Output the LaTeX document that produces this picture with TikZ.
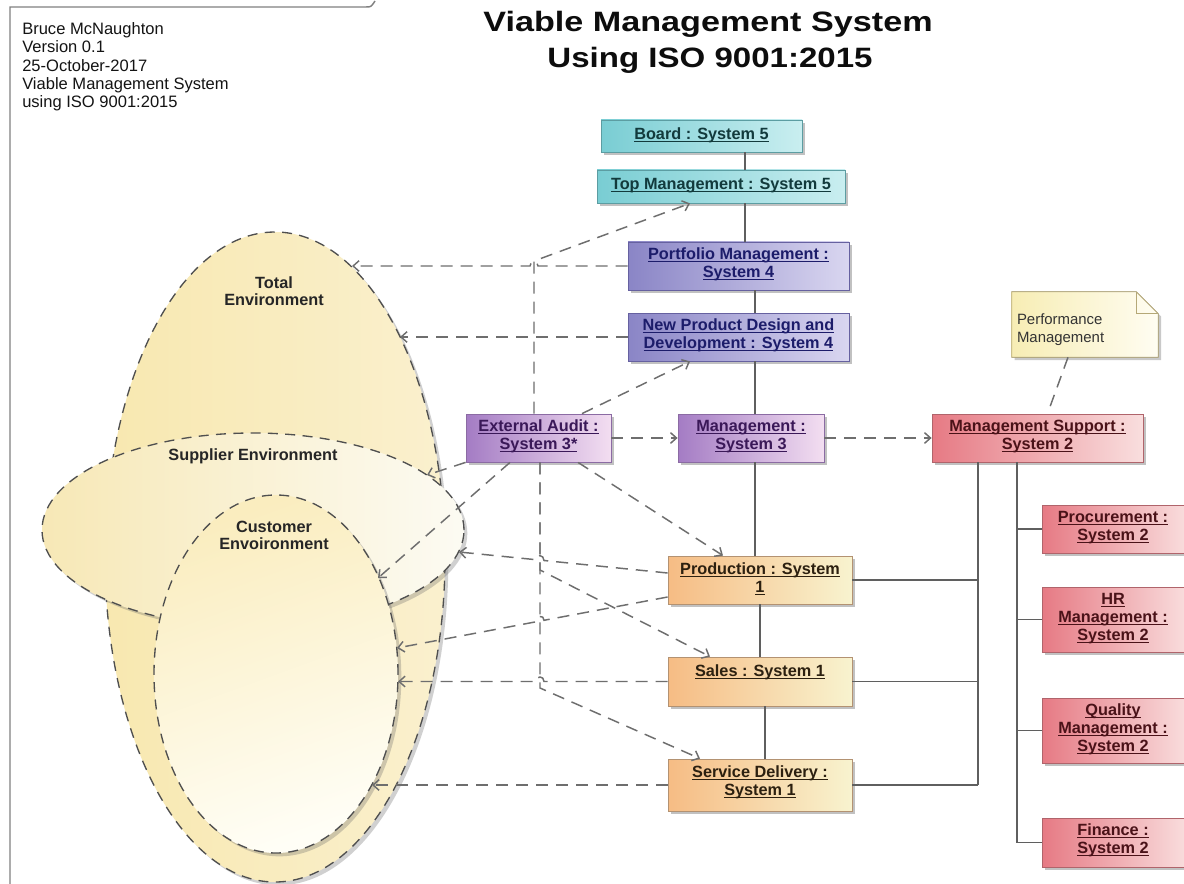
\documentclass[tikz,border=0pt]{standalone}
\usepackage{fontspec}
\setmainfont{Liberation Sans}
\usetikzlibrary{arrows.meta,shapes.geometric,shadows,calc}
\definecolor{c5l}{HTML}{79CDD3}\definecolor{c5r}{HTML}{C9EEF0}\definecolor{c5d}{HTML}{5C9DA2}\definecolor{c5t}{HTML}{123A3C}
\definecolor{c4l}{HTML}{8A85C6}\definecolor{c4r}{HTML}{D9D6F0}\definecolor{c4d}{HTML}{6661A0}\definecolor{c4t}{HTML}{1C1C6A}
\definecolor{c3l}{HTML}{A47CC4}\definecolor{c3r}{HTML}{F3DEF1}\definecolor{c3d}{HTML}{8B6BA3}\definecolor{c3t}{HTML}{3A1858}
\definecolor{c2l}{HTML}{E67A84}\definecolor{c2r}{HTML}{F9DEDE}\definecolor{c2d}{HTML}{B0646B}\definecolor{c2t}{HTML}{4A1218}
\definecolor{c1l}{HTML}{F6BC84}\definecolor{c1r}{HTML}{F8F3CF}\definecolor{c1d}{HTML}{B39272}\definecolor{c1t}{HTML}{2C2010}
\definecolor{ntl}{HTML}{F7EDB4}\definecolor{ntr}{HTML}{FFFDF2}\definecolor{ntd}{HTML}{B5A877}
\definecolor{envd}{HTML}{4F4F4F}\definecolor{cdl}{HTML}{6E6E6E}\definecolor{csl}{HTML}{5F5F5F}
\definecolor{totl}{HTML}{F8E8B0}\definecolor{totr}{HTML}{FAF0CE}
\definecolor{supl}{HTML}{F7E8B6}\definecolor{supr}{HTML}{FCFBF3}
\definecolor{cust}{HTML}{FAEDBF}\definecolor{cusb}{HTML}{FFFEF6}
\newcommand\ulb[1]{\underline{\smash{#1}\vphantom{A}}}
\begin{document}
\begin{tikzpicture}[x=0.75pt,y=-0.75pt,
  sz/.style 2 args={minimum width=#1*0.75pt,minimum height=#2*0.75pt},
  bx/.style={rectangle,inner sep=0pt,line width=0.6pt,drop shadow={shadow xshift=2.2pt,shadow yshift=-2.2pt,opacity=0.4,fill=black!60}},
  b5/.style={bx,left color=c5l,right color=c5r,draw=c5d},
  b4/.style={bx,left color=c4l,right color=c4r,draw=c4d},
  b3/.style={bx,left color=c3l,right color=c3r,draw=c3d},
  b2/.style={bx,left color=c2l,right color=c2r,draw=c2d},
  b1/.style={bx,left color=c1l,right color=c1r,draw=c1d},
  bt/.style={anchor=north,inner sep=0pt,align=center,font=\bfseries\fontsize{12.2}{13.6}\selectfont},
  t5/.style={bt,text=c5t},t4/.style={bt,text=c4t},t3/.style={bt,text=c3t},
  t2/.style={bt,text=c2t},t1/.style={bt,text=c1t},
  env/.style={ellipse,inner sep=0pt,draw=envd,line width=1pt,dash pattern=on 7.5pt off 5.5pt,
    drop shadow={shadow xshift=2.5pt,shadow yshift=-2.5pt,opacity=0.3,fill=black!60}},
  elab/.style={align=center,inner sep=0pt,font=\bfseries\fontsize{12.2}{12.6}\selectfont,text=black!85},
  dl/.style={draw=cdl,line width=1.1pt,dash pattern=on 9pt off 6pt},
  ar/.style={-{Straight Barb[length=4.5pt,width=8pt]}},
  sl/.style={draw=csl,line width=1.1pt},
  hd/.style={inner sep=0pt,anchor=base west,font=\fontsize{12.4}{14}\selectfont,text=black!92},
  ttl/.style={inner sep=0pt,anchor=base,font=\bfseries\fontsize{21}{24}\selectfont,text=black!95},
]
\useasboundingbox (0,0) rectangle (1184,884);
\fill[white] (0,0) rectangle (1184,884);

% frame
\draw[draw=black!50,line width=1.1pt] (10,884) -- (10,7) -- (366,7) .. controls (371,7) .. (375,1);

% header
\node[hd] (h1) at (22,35) {Bruce McNaughton};
\node[hd] (h2) at (22,53) {Version 0.1};
\node[hd] (h3) at (22,72) {25-October-2017};
\node[hd] (h4) at (22,90) {Viable Management System};
\node[hd] (h5) at (22,108) {using ISO 9001:2015};

% title
\node[ttl] (ti1) at (708,32) {\scalebox{1.22}[1]{Viable Management System}};
\node[ttl] (ti2) at (710,68) {\scalebox{1.18}[1]{Using ISO 9001:2015}};

% environments
\node[env,sz={340}{650},left color=totl,right color=totr] (tot) at (275,557) {};
\node[env,sz={422}{194},left color=supl,right color=supr] (sup) at (253,530) {};
\node[env,sz={244}{358},shading=axis,top color=cust,bottom color=cusb,shading angle=20] (cus) at (276,674) {};
\node[elab] (totL) at (274,291) {Total\\Environment};
\node[elab] (supL) at (253,456) {Supplier Environment};
\node[elab] (cusL) at (274,535) {Customer\\Envoironment};

% boxes
\node[b5,sz={201}{32}] (board) at (701.5,136) {};
\node[b5,sz={248}{33}] (tm) at (721,186.5) {};
\node[b4,sz={221}{48}] (pm) at (738.5,266) {};
\node[b4,sz={221}{48}] (npd) at (738.5,337) {};
\node[b3,sz={145}{48}] (ea) at (538.5,438) {};
\node[b3,sz={146}{48}] (mg) at (751,438) {};
\node[b2,sz={211}{48}] (ms) at (1037.5,438) {};
\node[b2,sz={146}{48}] (proc) at (1115,529) {};
\node[b2,sz={146}{65}] (hr) at (1115,619.5) {};
\node[b2,sz={146}{65}] (ql) at (1115,730.5) {};
\node[b2,sz={146}{49}] (fin) at (1115,842.5) {};
\node[b1,sz={184}{48}] (prod) at (760,580) {};
\node[b1,sz={184}{49}] (sales) at (760,681.5) {};
\node[b1,sz={184}{52}] (serv) at (760,785) {};

% note
\node[inner sep=0pt,sz={146}{65}] (note) at (1085,324.5) {};
\filldraw[left color=ntl,right color=ntr,draw=ntd,line width=0.6pt,
  drop shadow={shadow xshift=2.2pt,shadow yshift=-2.2pt,opacity=0.35,fill=black!60}]
  (note.north west) -- ($(note.north east)+(-22,0)$) -- ($(note.north east)+(0,22)$) -- (note.south east) -- (note.south west) -- cycle;
\draw[draw=ntd,line width=0.6pt] ($(note.north east)+(-22,0)$) -- ($(note.north east)+(-22,22)$) -- ($(note.north east)+(0,22)$);
\node[anchor=north west,inner sep=0pt,align=left,font=\fontsize{11.2}{13.6}\selectfont,text=black!80] (noteT) at ($(note.north west)+(5,22)$) {Performance\\Management};

% box texts
\node[t5] (boardT) at ($(board.north)+(0,8)$) {\ulb{Board : System 5}};
\node[t5] (tmT) at ($(tm.north)+(0,8)$) {\ulb{Top Management : System 5}};
\node[t4] (pmT) at ($(pm.north)+(0,6)$) {\ulb{Portfolio Management :}\\\ulb{System 4}};
\node[t4] (npdT) at ($(npd.north)+(0,6)$) {\ulb{New Product Design and}\\\ulb{Development : System 4}};
\node[t3] (eaT) at ($(ea.north)+(0,6)$) {\ulb{External Audit :}\\\ulb{System 3*}};
\node[t3] (mgT) at ($(mg.north)+(0,6)$) {\ulb{Management :}\\\ulb{System 3}};
\node[t2] (msT) at ($(ms.north)+(0,6)$) {\ulb{Management Support :}\\\ulb{System 2}};
\node[t2] (procT) at ($(proc.north)+(-2,6)$) {\ulb{Procurement :}\\\ulb{System 2}};
\node[t2] (hrT) at ($(hr.north)+(-2,6)$) {\ulb{HR}\\\ulb{Management :}\\\ulb{System 2}};
\node[t2] (qlT) at ($(ql.north)+(-2,6)$) {\ulb{Quality}\\\ulb{Management :}\\\ulb{System 2}};
\node[t2] (finT) at ($(fin.north)+(-2,6)$) {\ulb{Finance :}\\\ulb{System 2}};
\node[t1] (prodT) at ($(prod.north)+(0,7)$) {\ulb{Production : System}\\\ulb{1}};
\node[t1] (salesT) at ($(sales.north)+(0,8)$) {\ulb{Sales : System 1}};
\node[t1] (servT) at ($(serv.north)+(0,7)$) {\ulb{Service Delivery :}\\\ulb{System 1}};

% helper coordinates
\coordinate (xA) at (745,0); \coordinate (xB) at (755,0); \coordinate (xC) at (760,0); \coordinate (xD) at (765,0);
\coordinate (xE) at (978,0); \coordinate (xF) at (1017,0);
\coordinate (v1) at (534,0); \coordinate (v2) at (582,0); \coordinate (v3) at (690,0);
\coordinate (v4) at (510,0); \coordinate (v5) at (578,0); \coordinate (v6) at (723,0);
\coordinate (v7) at (540,0); \coordinate (v8) at (710,0); \coordinate (v9) at (700,0);
\coordinate (te1) at (352,266); \coordinate (te2) at (400,337);
\coordinate (se1) at (427,475); \coordinate (se2) at (459,552);
\coordinate (ce1) at (378,578); \coordinate (ce2) at (397,648);
\coordinate (ce3) at (398,681.5); \coordinate (ce4) at (372,785);

% solid connectors
\draw[sl] (board.south -| xA) -- (tm.north -| xA);
\draw[sl] (tm.south -| xA) -- (pm.north -| xA);
\draw[sl] (pm.south -| xB) -- (npd.north -| xB);
\draw[sl] (npd.south -| xB) -- (mg.north -| xB);
\draw[sl] (mg.south -| xB) -- (prod.north -| xB);
\draw[sl] (prod.south -| xC) -- (sales.north -| xC);
\draw[sl] (sales.south -| xD) -- (serv.north -| xD);
\draw[sl] (ms.south -| xE) -- (serv.east -| xE);
\draw[sl] (prod.east) -- (prod.east -| xE);
\draw[sl] (sales.east) -- (sales.east -| xE);
\draw[sl] (serv.east) -- (serv.east -| xE);
\draw[sl] (ms.south -| xF) -- (fin.west -| xF);
\draw[sl] (proc.west -| xF) -- (proc.west);
\draw[sl] (hr.west -| xF) -- (hr.west);
\draw[sl] (ql.west -| xF) -- (ql.west);
\draw[sl] (fin.west -| xF) -- (fin.west);

% dashed connectors
\draw[dl] ($(note.south)+(-17,0)$) -- ($(ms.north)+(10,0)$);
\draw[dl,ar] (ea.north -| v1) -- (534,261) -- (tm.south -| v3);
\draw[dl,ar] (pm.west) -- (538,266) .. controls (538,260) and (530,260) .. (530,266) -- (te1);
\draw[dl,ar] (npd.west) -- (te2);
\draw[dl,ar] (ea.north -| v2) -- (npd.south -| v3);
\draw[dl,ar] (ea.east) -- (mg.west);
\draw[dl,ar] (mg.east) -- (ms.west);
\draw[dl,ar] (ea.south west) -- (se1);
\draw[dl,ar] (ea.south -| v4) -- (ce1);
\draw[dl,ar] (ea.south -| v5) -- (prod.north -| v6);
\draw[dl,ar] (ea.south -| v7) -- (540,570) -- (sales.north -| v8);
\draw[dl,ar] (ea.south -| v7) -- (540,688) -- (serv.north -| v9);
\draw[dl,ar] ($(prod.west)+(0,-7)$) -- (544,560.5) .. controls (544,554.5) and (536,553.7) .. (536,559.7) -- (se2);
\draw[dl,ar] ($(prod.west)+(0,17)$) -- (544,620.3) .. controls (544,614.3) and (536,615.8) .. (536,621.8) -- (ce2);
\draw[dl,ar] (sales.west) -- (544,681.5) .. controls (544,675.5) and (536,675.5) .. (536,681.5) -- (ce3);
\draw[dl,ar] (serv.west) -- (ce4);
\end{tikzpicture}
\end{document}
